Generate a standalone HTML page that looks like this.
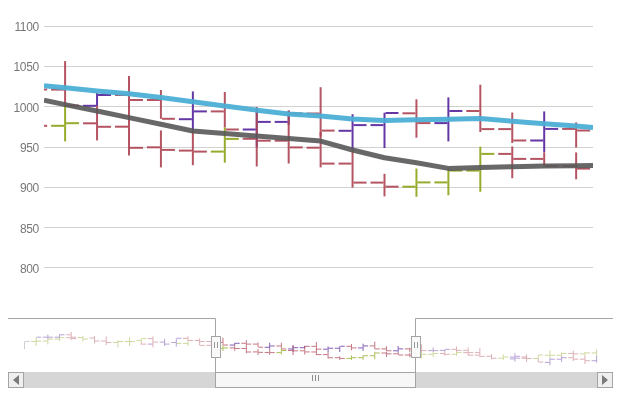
<!DOCTYPE html>
<html><head><meta charset="utf-8"><style>
html,body{margin:0;padding:0;background:#fff;}
body{width:620px;height:411px;overflow:hidden;font-family:"Liberation Sans",sans-serif;}
svg{display:block;}
</style></head><body>
<svg width="620" height="411" viewBox="0 0 620 411">
<defs><clipPath id="pc"><rect x="44" y="0" width="549" height="300"/></clipPath><clipPath id="nc"><rect x="8" y="319" width="605" height="53"/></clipPath></defs>
<line x1="44" y1="26.50" x2="593" y2="26.50" stroke="#d2d2d2" stroke-width="1"/>
<line x1="44" y1="66.50" x2="593" y2="66.50" stroke="#d2d2d2" stroke-width="1"/>
<line x1="44" y1="106.50" x2="593" y2="106.50" stroke="#d2d2d2" stroke-width="1"/>
<line x1="44" y1="147.50" x2="593" y2="147.50" stroke="#d2d2d2" stroke-width="1"/>
<line x1="44" y1="187.50" x2="593" y2="187.50" stroke="#d2d2d2" stroke-width="1"/>
<line x1="44" y1="227.50" x2="593" y2="227.50" stroke="#d2d2d2" stroke-width="1"/>
<line x1="44" y1="267.50" x2="593" y2="267.50" stroke="#d2d2d2" stroke-width="1"/>
<g style="filter:grayscale(1)">
<text x="39" y="31.00" text-anchor="end" font-family="Liberation Sans" font-size="12" letter-spacing="-0.3" fill="#787878">1100</text>
<text x="39" y="71.00" text-anchor="end" font-family="Liberation Sans" font-size="12" letter-spacing="-0.3" fill="#787878">1050</text>
<text x="39" y="112.00" text-anchor="end" font-family="Liberation Sans" font-size="12" letter-spacing="-0.3" fill="#787878">1000</text>
<text x="39" y="152.00" text-anchor="end" font-family="Liberation Sans" font-size="12" letter-spacing="-0.3" fill="#787878">950</text>
<text x="39" y="192.00" text-anchor="end" font-family="Liberation Sans" font-size="12" letter-spacing="-0.3" fill="#787878">900</text>
<text x="39" y="233.00" text-anchor="end" font-family="Liberation Sans" font-size="12" letter-spacing="-0.3" fill="#787878">850</text>
<text x="39" y="273.00" text-anchor="end" font-family="Liberation Sans" font-size="12" letter-spacing="-0.3" fill="#787878">800</text>
</g>
<g clip-path="url(#pc)" stroke-width="2" stroke-linecap="butt">
<line x1="34.16" y1="89.50" x2="47.16" y2="89.50" stroke="#ad4252" stroke-opacity="0.90"/>
<line x1="34.16" y1="125.80" x2="47.16" y2="125.80" stroke="#ad4252" stroke-opacity="0.90"/>
<line x1="65.10" y1="61.10" x2="65.10" y2="106.00" stroke="#ad4252" stroke-opacity="0.90"/>
<line x1="51.10" y1="89.60" x2="64.10" y2="89.60" stroke="#ad4252" stroke-opacity="0.90"/>
<line x1="66.10" y1="105.50" x2="79.10" y2="105.50" stroke="#ad4252" stroke-opacity="0.90"/>
<line x1="65.10" y1="106.00" x2="65.10" y2="141.40" stroke="#8aa316" stroke-opacity="0.90"/>
<line x1="51.10" y1="125.80" x2="64.10" y2="125.80" stroke="#8aa316" stroke-opacity="0.90"/>
<line x1="66.10" y1="123.20" x2="79.10" y2="123.20" stroke="#8aa316" stroke-opacity="0.90"/>
<line x1="97.04" y1="93.00" x2="97.04" y2="106.00" stroke="#53219b" stroke-opacity="0.90"/>
<line x1="83.04" y1="105.80" x2="96.04" y2="105.80" stroke="#53219b" stroke-opacity="0.90"/>
<line x1="98.04" y1="95.00" x2="111.04" y2="95.00" stroke="#53219b" stroke-opacity="0.90"/>
<line x1="97.04" y1="106.00" x2="97.04" y2="140.40" stroke="#ad4252" stroke-opacity="0.90"/>
<line x1="83.04" y1="123.30" x2="96.04" y2="123.30" stroke="#ad4252" stroke-opacity="0.90"/>
<line x1="98.04" y1="126.80" x2="111.04" y2="126.80" stroke="#ad4252" stroke-opacity="0.90"/>
<line x1="128.98" y1="76.00" x2="128.98" y2="155.50" stroke="#ad4252" stroke-opacity="0.90"/>
<line x1="114.98" y1="95.00" x2="127.98" y2="95.00" stroke="#ad4252" stroke-opacity="0.90"/>
<line x1="114.98" y1="126.70" x2="127.98" y2="126.70" stroke="#ad4252" stroke-opacity="0.90"/>
<line x1="129.98" y1="100.00" x2="142.98" y2="100.00" stroke="#ad4252" stroke-opacity="0.90"/>
<line x1="129.98" y1="147.80" x2="142.98" y2="147.80" stroke="#ad4252" stroke-opacity="0.90"/>
<line x1="160.92" y1="90.00" x2="160.92" y2="118.80" stroke="#ad4252" stroke-opacity="0.90"/>
<line x1="146.92" y1="100.00" x2="159.92" y2="100.00" stroke="#ad4252" stroke-opacity="0.90"/>
<line x1="161.92" y1="118.80" x2="174.92" y2="118.80" stroke="#ad4252" stroke-opacity="0.90"/>
<line x1="160.92" y1="130.40" x2="160.92" y2="167.40" stroke="#ad4252" stroke-opacity="0.90"/>
<line x1="146.92" y1="147.30" x2="159.92" y2="147.30" stroke="#ad4252" stroke-opacity="0.90"/>
<line x1="161.92" y1="149.90" x2="174.92" y2="149.90" stroke="#ad4252" stroke-opacity="0.90"/>
<line x1="192.86" y1="91.40" x2="192.86" y2="130.50" stroke="#53219b" stroke-opacity="0.90"/>
<line x1="178.86" y1="119.20" x2="191.86" y2="119.20" stroke="#53219b" stroke-opacity="0.90"/>
<line x1="193.86" y1="111.40" x2="206.86" y2="111.40" stroke="#53219b" stroke-opacity="0.90"/>
<line x1="192.86" y1="130.50" x2="192.86" y2="165.20" stroke="#ad4252" stroke-opacity="0.90"/>
<line x1="178.86" y1="150.60" x2="191.86" y2="150.60" stroke="#ad4252" stroke-opacity="0.90"/>
<line x1="193.86" y1="151.60" x2="206.86" y2="151.60" stroke="#ad4252" stroke-opacity="0.90"/>
<line x1="224.80" y1="92.00" x2="224.80" y2="127.60" stroke="#ad4252" stroke-opacity="0.90"/>
<line x1="210.80" y1="111.40" x2="223.80" y2="111.40" stroke="#ad4252" stroke-opacity="0.90"/>
<line x1="225.80" y1="129.50" x2="238.80" y2="129.50" stroke="#ad4252" stroke-opacity="0.90"/>
<line x1="224.80" y1="127.60" x2="224.80" y2="162.70" stroke="#8aa316" stroke-opacity="0.90"/>
<line x1="210.80" y1="151.60" x2="223.80" y2="151.60" stroke="#8aa316" stroke-opacity="0.90"/>
<line x1="225.80" y1="138.90" x2="238.80" y2="138.90" stroke="#8aa316" stroke-opacity="0.90"/>
<line x1="256.74" y1="107.30" x2="256.74" y2="147.00" stroke="#53219b" stroke-opacity="0.90"/>
<line x1="242.74" y1="129.50" x2="255.74" y2="129.50" stroke="#53219b" stroke-opacity="0.90"/>
<line x1="257.74" y1="121.90" x2="270.74" y2="121.90" stroke="#53219b" stroke-opacity="0.90"/>
<line x1="256.74" y1="107.30" x2="256.74" y2="166.50" stroke="#ad4252" stroke-opacity="0.90"/>
<line x1="242.74" y1="138.80" x2="255.74" y2="138.80" stroke="#ad4252" stroke-opacity="0.90"/>
<line x1="257.74" y1="140.70" x2="270.74" y2="140.70" stroke="#ad4252" stroke-opacity="0.90"/>
<line x1="288.68" y1="110.60" x2="288.68" y2="125.00" stroke="#53219b" stroke-opacity="0.90"/>
<line x1="274.68" y1="121.90" x2="287.68" y2="121.90" stroke="#53219b" stroke-opacity="0.90"/>
<line x1="288.68" y1="110.60" x2="288.68" y2="163.50" stroke="#ad4252" stroke-opacity="0.90"/>
<line x1="274.68" y1="140.70" x2="287.68" y2="140.70" stroke="#ad4252" stroke-opacity="0.90"/>
<line x1="289.68" y1="147.40" x2="302.68" y2="147.40" stroke="#ad4252" stroke-opacity="0.90"/>
<line x1="289.68" y1="113.50" x2="302.68" y2="113.50" stroke="#ad4252" stroke-opacity="0.90"/>
<line x1="320.62" y1="87.20" x2="320.62" y2="136.80" stroke="#ad4252" stroke-opacity="0.90"/>
<line x1="306.62" y1="113.50" x2="319.62" y2="113.50" stroke="#ad4252" stroke-opacity="0.90"/>
<line x1="321.62" y1="130.60" x2="334.62" y2="130.60" stroke="#ad4252" stroke-opacity="0.90"/>
<line x1="320.62" y1="132.00" x2="320.62" y2="167.40" stroke="#ad4252" stroke-opacity="0.90"/>
<line x1="306.62" y1="147.70" x2="319.62" y2="147.70" stroke="#ad4252" stroke-opacity="0.90"/>
<line x1="321.62" y1="163.60" x2="334.62" y2="163.60" stroke="#ad4252" stroke-opacity="0.90"/>
<line x1="352.56" y1="114.20" x2="352.56" y2="149.80" stroke="#53219b" stroke-opacity="0.90"/>
<line x1="338.56" y1="130.80" x2="351.56" y2="130.80" stroke="#53219b" stroke-opacity="0.90"/>
<line x1="353.56" y1="125.10" x2="366.56" y2="125.10" stroke="#53219b" stroke-opacity="0.90"/>
<line x1="352.56" y1="149.80" x2="352.56" y2="187.60" stroke="#ad4252" stroke-opacity="0.90"/>
<line x1="338.56" y1="163.60" x2="351.56" y2="163.60" stroke="#ad4252" stroke-opacity="0.90"/>
<line x1="353.56" y1="182.60" x2="366.56" y2="182.60" stroke="#ad4252" stroke-opacity="0.90"/>
<line x1="384.50" y1="112.70" x2="384.50" y2="148.00" stroke="#53219b" stroke-opacity="0.90"/>
<line x1="370.50" y1="125.10" x2="383.50" y2="125.10" stroke="#53219b" stroke-opacity="0.90"/>
<line x1="385.50" y1="113.00" x2="398.50" y2="113.00" stroke="#53219b" stroke-opacity="0.90"/>
<line x1="384.50" y1="173.80" x2="384.50" y2="196.40" stroke="#ad4252" stroke-opacity="0.90"/>
<line x1="370.50" y1="182.60" x2="383.50" y2="182.60" stroke="#ad4252" stroke-opacity="0.90"/>
<line x1="385.50" y1="186.70" x2="398.50" y2="186.70" stroke="#ad4252" stroke-opacity="0.90"/>
<line x1="416.44" y1="99.30" x2="416.44" y2="137.70" stroke="#ad4252" stroke-opacity="0.90"/>
<line x1="402.44" y1="113.30" x2="415.44" y2="113.30" stroke="#ad4252" stroke-opacity="0.90"/>
<line x1="417.44" y1="123.10" x2="430.44" y2="123.10" stroke="#ad4252" stroke-opacity="0.90"/>
<line x1="416.44" y1="168.60" x2="416.44" y2="196.80" stroke="#8aa316" stroke-opacity="0.90"/>
<line x1="402.44" y1="186.70" x2="415.44" y2="186.70" stroke="#8aa316" stroke-opacity="0.90"/>
<line x1="417.44" y1="182.40" x2="430.44" y2="182.40" stroke="#8aa316" stroke-opacity="0.90"/>
<line x1="448.38" y1="97.40" x2="448.38" y2="141.40" stroke="#53219b" stroke-opacity="0.90"/>
<line x1="434.38" y1="123.10" x2="447.38" y2="123.10" stroke="#53219b" stroke-opacity="0.90"/>
<line x1="449.38" y1="111.00" x2="462.38" y2="111.00" stroke="#53219b" stroke-opacity="0.90"/>
<line x1="448.38" y1="168.00" x2="448.38" y2="195.30" stroke="#8aa316" stroke-opacity="0.90"/>
<line x1="434.38" y1="182.40" x2="447.38" y2="182.40" stroke="#8aa316" stroke-opacity="0.90"/>
<line x1="449.38" y1="170.60" x2="462.38" y2="170.60" stroke="#8aa316" stroke-opacity="0.90"/>
<line x1="480.32" y1="84.70" x2="480.32" y2="132.00" stroke="#ad4252" stroke-opacity="0.90"/>
<line x1="466.32" y1="111.00" x2="479.32" y2="111.00" stroke="#ad4252" stroke-opacity="0.90"/>
<line x1="481.32" y1="129.10" x2="494.32" y2="129.10" stroke="#ad4252" stroke-opacity="0.90"/>
<line x1="480.32" y1="146.70" x2="480.32" y2="191.80" stroke="#8aa316" stroke-opacity="0.90"/>
<line x1="466.32" y1="170.60" x2="479.32" y2="170.60" stroke="#8aa316" stroke-opacity="0.90"/>
<line x1="481.32" y1="153.90" x2="494.32" y2="153.90" stroke="#8aa316" stroke-opacity="0.90"/>
<line x1="512.26" y1="112.50" x2="512.26" y2="143.00" stroke="#ad4252" stroke-opacity="0.90"/>
<line x1="498.26" y1="129.10" x2="511.26" y2="129.10" stroke="#ad4252" stroke-opacity="0.90"/>
<line x1="513.26" y1="140.50" x2="526.26" y2="140.50" stroke="#ad4252" stroke-opacity="0.90"/>
<line x1="512.26" y1="146.40" x2="512.26" y2="178.20" stroke="#ad4252" stroke-opacity="0.90"/>
<line x1="498.26" y1="153.90" x2="511.26" y2="153.90" stroke="#ad4252" stroke-opacity="0.90"/>
<line x1="513.26" y1="158.90" x2="526.26" y2="158.90" stroke="#ad4252" stroke-opacity="0.90"/>
<line x1="544.20" y1="111.40" x2="544.20" y2="152.40" stroke="#53219b" stroke-opacity="0.90"/>
<line x1="530.20" y1="140.50" x2="543.20" y2="140.50" stroke="#53219b" stroke-opacity="0.90"/>
<line x1="545.20" y1="128.90" x2="558.20" y2="128.90" stroke="#53219b" stroke-opacity="0.90"/>
<line x1="544.20" y1="152.40" x2="544.20" y2="166.10" stroke="#ad4252" stroke-opacity="0.90"/>
<line x1="530.20" y1="158.90" x2="543.20" y2="158.90" stroke="#ad4252" stroke-opacity="0.90"/>
<line x1="545.20" y1="166.10" x2="558.20" y2="166.10" stroke="#ad4252" stroke-opacity="0.90"/>
<line x1="576.14" y1="122.40" x2="576.14" y2="147.50" stroke="#ad4252" stroke-opacity="0.90"/>
<line x1="562.14" y1="128.90" x2="575.14" y2="128.90" stroke="#ad4252" stroke-opacity="0.90"/>
<line x1="577.14" y1="130.50" x2="590.14" y2="130.50" stroke="#ad4252" stroke-opacity="0.90"/>
<line x1="576.14" y1="152.40" x2="576.14" y2="179.30" stroke="#ad4252" stroke-opacity="0.90"/>
<line x1="562.14" y1="166.10" x2="575.14" y2="166.10" stroke="#ad4252" stroke-opacity="0.90"/>
<line x1="577.14" y1="168.60" x2="590.14" y2="168.60" stroke="#ad4252" stroke-opacity="0.90"/>
</g>
<g clip-path="url(#pc)" fill="none" stroke-linejoin="round">
<path d="M44.00,85.80 L65.10,87.80 L97.04,91.00 L128.98,93.70 L160.92,97.40 L192.86,101.80 L224.80,105.90 L256.74,110.20 L288.68,113.90 L320.62,116.10 L352.56,119.10 L384.50,120.60 L416.44,119.70 L448.38,119.30 L480.32,118.60 L512.26,121.30 L544.20,123.80 L576.14,126.00 L593.00,127.50" stroke="#4aaed4" stroke-opacity="0.94" stroke-width="5"/>
<path d="M44.00,100.20 L65.10,104.60 L97.04,111.00 L128.98,117.60 L160.92,124.30 L192.86,131.00 L224.80,133.50 L256.74,136.10 L288.68,138.50 L320.62,141.10 L352.56,150.00 L384.50,157.80 L416.44,162.80 L448.38,168.40 L480.32,167.60 L512.26,166.70 L544.20,166.10 L576.14,165.70 L593.00,165.40" stroke="#585858" stroke-opacity="0.9" stroke-width="5"/>
</g>
<g clip-path="url(#nc)" stroke-width="1">
<line x1="211.82" y1="342.37" x2="216.32" y2="342.37" stroke="#ad4252" stroke-opacity="0.72"/>
<line x1="211.82" y1="348.36" x2="216.32" y2="348.36" stroke="#ad4252" stroke-opacity="0.72"/>
<line x1="222.99" y1="337.68" x2="222.99" y2="345.09" stroke="#ad4252" stroke-opacity="0.72"/>
<line x1="217.99" y1="342.38" x2="222.49" y2="342.38" stroke="#ad4252" stroke-opacity="0.72"/>
<line x1="223.49" y1="345.01" x2="227.99" y2="345.01" stroke="#ad4252" stroke-opacity="0.72"/>
<line x1="222.99" y1="345.09" x2="222.99" y2="350.93" stroke="#8aa316" stroke-opacity="0.72"/>
<line x1="217.99" y1="348.36" x2="222.49" y2="348.36" stroke="#8aa316" stroke-opacity="0.72"/>
<line x1="223.49" y1="347.93" x2="227.99" y2="347.93" stroke="#8aa316" stroke-opacity="0.72"/>
<line x1="234.67" y1="342.95" x2="234.67" y2="345.09" stroke="#53219b" stroke-opacity="0.72"/>
<line x1="229.67" y1="345.06" x2="234.17" y2="345.06" stroke="#53219b" stroke-opacity="0.72"/>
<line x1="235.17" y1="343.28" x2="239.67" y2="343.28" stroke="#53219b" stroke-opacity="0.72"/>
<line x1="234.67" y1="345.09" x2="234.67" y2="350.77" stroke="#ad4252" stroke-opacity="0.72"/>
<line x1="229.67" y1="347.94" x2="234.17" y2="347.94" stroke="#ad4252" stroke-opacity="0.72"/>
<line x1="235.17" y1="348.52" x2="239.67" y2="348.52" stroke="#ad4252" stroke-opacity="0.72"/>
<line x1="246.34" y1="340.14" x2="246.34" y2="353.26" stroke="#ad4252" stroke-opacity="0.72"/>
<line x1="241.34" y1="343.28" x2="245.84" y2="343.28" stroke="#ad4252" stroke-opacity="0.72"/>
<line x1="241.34" y1="348.51" x2="245.84" y2="348.51" stroke="#ad4252" stroke-opacity="0.72"/>
<line x1="246.84" y1="344.10" x2="251.34" y2="344.10" stroke="#ad4252" stroke-opacity="0.72"/>
<line x1="246.84" y1="351.99" x2="251.34" y2="351.99" stroke="#ad4252" stroke-opacity="0.72"/>
<line x1="258.02" y1="342.45" x2="258.02" y2="347.20" stroke="#ad4252" stroke-opacity="0.72"/>
<line x1="253.02" y1="344.10" x2="257.52" y2="344.10" stroke="#ad4252" stroke-opacity="0.72"/>
<line x1="258.52" y1="347.20" x2="263.02" y2="347.20" stroke="#ad4252" stroke-opacity="0.72"/>
<line x1="258.02" y1="349.12" x2="258.02" y2="355.22" stroke="#ad4252" stroke-opacity="0.72"/>
<line x1="253.02" y1="351.90" x2="257.52" y2="351.90" stroke="#ad4252" stroke-opacity="0.72"/>
<line x1="258.52" y1="352.33" x2="263.02" y2="352.33" stroke="#ad4252" stroke-opacity="0.72"/>
<line x1="269.70" y1="342.68" x2="269.70" y2="349.13" stroke="#53219b" stroke-opacity="0.72"/>
<line x1="264.70" y1="347.27" x2="269.20" y2="347.27" stroke="#53219b" stroke-opacity="0.72"/>
<line x1="270.20" y1="345.98" x2="274.70" y2="345.98" stroke="#53219b" stroke-opacity="0.72"/>
<line x1="269.70" y1="349.13" x2="269.70" y2="354.86" stroke="#ad4252" stroke-opacity="0.72"/>
<line x1="264.70" y1="352.45" x2="269.20" y2="352.45" stroke="#ad4252" stroke-opacity="0.72"/>
<line x1="270.20" y1="352.61" x2="274.70" y2="352.61" stroke="#ad4252" stroke-opacity="0.72"/>
<line x1="281.37" y1="342.78" x2="281.37" y2="348.65" stroke="#ad4252" stroke-opacity="0.72"/>
<line x1="276.37" y1="345.98" x2="280.87" y2="345.98" stroke="#ad4252" stroke-opacity="0.72"/>
<line x1="281.87" y1="348.97" x2="286.37" y2="348.97" stroke="#ad4252" stroke-opacity="0.72"/>
<line x1="281.37" y1="348.65" x2="281.37" y2="354.45" stroke="#8aa316" stroke-opacity="0.72"/>
<line x1="276.37" y1="352.61" x2="280.87" y2="352.61" stroke="#8aa316" stroke-opacity="0.72"/>
<line x1="281.87" y1="350.52" x2="286.37" y2="350.52" stroke="#8aa316" stroke-opacity="0.72"/>
<line x1="293.05" y1="345.30" x2="293.05" y2="351.86" stroke="#53219b" stroke-opacity="0.72"/>
<line x1="288.05" y1="348.97" x2="292.55" y2="348.97" stroke="#53219b" stroke-opacity="0.72"/>
<line x1="293.55" y1="347.71" x2="298.05" y2="347.71" stroke="#53219b" stroke-opacity="0.72"/>
<line x1="293.05" y1="345.30" x2="293.05" y2="355.07" stroke="#ad4252" stroke-opacity="0.72"/>
<line x1="288.05" y1="350.50" x2="292.55" y2="350.50" stroke="#ad4252" stroke-opacity="0.72"/>
<line x1="293.55" y1="350.82" x2="298.05" y2="350.82" stroke="#ad4252" stroke-opacity="0.72"/>
<line x1="304.72" y1="345.85" x2="304.72" y2="348.23" stroke="#53219b" stroke-opacity="0.72"/>
<line x1="299.72" y1="347.71" x2="304.22" y2="347.71" stroke="#53219b" stroke-opacity="0.72"/>
<line x1="304.72" y1="345.85" x2="304.72" y2="354.58" stroke="#ad4252" stroke-opacity="0.72"/>
<line x1="299.72" y1="350.82" x2="304.22" y2="350.82" stroke="#ad4252" stroke-opacity="0.72"/>
<line x1="305.22" y1="351.92" x2="309.72" y2="351.92" stroke="#ad4252" stroke-opacity="0.72"/>
<line x1="305.22" y1="346.33" x2="309.72" y2="346.33" stroke="#ad4252" stroke-opacity="0.72"/>
<line x1="316.40" y1="341.99" x2="316.40" y2="350.17" stroke="#ad4252" stroke-opacity="0.72"/>
<line x1="311.40" y1="346.33" x2="315.90" y2="346.33" stroke="#ad4252" stroke-opacity="0.72"/>
<line x1="316.90" y1="349.15" x2="321.40" y2="349.15" stroke="#ad4252" stroke-opacity="0.72"/>
<line x1="316.40" y1="349.38" x2="316.40" y2="355.22" stroke="#ad4252" stroke-opacity="0.72"/>
<line x1="311.40" y1="351.97" x2="315.90" y2="351.97" stroke="#ad4252" stroke-opacity="0.72"/>
<line x1="316.90" y1="354.59" x2="321.40" y2="354.59" stroke="#ad4252" stroke-opacity="0.72"/>
<line x1="328.08" y1="346.44" x2="328.08" y2="352.32" stroke="#53219b" stroke-opacity="0.72"/>
<line x1="323.08" y1="349.18" x2="327.58" y2="349.18" stroke="#53219b" stroke-opacity="0.72"/>
<line x1="328.58" y1="348.24" x2="333.08" y2="348.24" stroke="#53219b" stroke-opacity="0.72"/>
<line x1="328.08" y1="352.32" x2="328.08" y2="358.55" stroke="#ad4252" stroke-opacity="0.72"/>
<line x1="323.08" y1="354.59" x2="327.58" y2="354.59" stroke="#ad4252" stroke-opacity="0.72"/>
<line x1="328.58" y1="357.73" x2="333.08" y2="357.73" stroke="#ad4252" stroke-opacity="0.72"/>
<line x1="339.75" y1="346.20" x2="339.75" y2="352.02" stroke="#53219b" stroke-opacity="0.72"/>
<line x1="334.75" y1="348.24" x2="339.25" y2="348.24" stroke="#53219b" stroke-opacity="0.72"/>
<line x1="340.25" y1="346.25" x2="344.75" y2="346.25" stroke="#53219b" stroke-opacity="0.72"/>
<line x1="339.75" y1="356.28" x2="339.75" y2="360.01" stroke="#ad4252" stroke-opacity="0.72"/>
<line x1="334.75" y1="357.73" x2="339.25" y2="357.73" stroke="#ad4252" stroke-opacity="0.72"/>
<line x1="340.25" y1="358.41" x2="344.75" y2="358.41" stroke="#ad4252" stroke-opacity="0.72"/>
<line x1="351.43" y1="343.98" x2="351.43" y2="350.32" stroke="#ad4252" stroke-opacity="0.72"/>
<line x1="346.43" y1="346.29" x2="350.93" y2="346.29" stroke="#ad4252" stroke-opacity="0.72"/>
<line x1="351.93" y1="347.91" x2="356.43" y2="347.91" stroke="#ad4252" stroke-opacity="0.72"/>
<line x1="351.43" y1="355.42" x2="351.43" y2="360.07" stroke="#8aa316" stroke-opacity="0.72"/>
<line x1="346.43" y1="358.41" x2="350.93" y2="358.41" stroke="#8aa316" stroke-opacity="0.72"/>
<line x1="351.93" y1="357.70" x2="356.43" y2="357.70" stroke="#8aa316" stroke-opacity="0.72"/>
<line x1="363.10" y1="343.67" x2="363.10" y2="350.93" stroke="#53219b" stroke-opacity="0.72"/>
<line x1="358.10" y1="347.91" x2="362.60" y2="347.91" stroke="#53219b" stroke-opacity="0.72"/>
<line x1="363.60" y1="345.92" x2="368.10" y2="345.92" stroke="#53219b" stroke-opacity="0.72"/>
<line x1="363.10" y1="355.32" x2="363.10" y2="359.82" stroke="#8aa316" stroke-opacity="0.72"/>
<line x1="358.10" y1="357.70" x2="362.60" y2="357.70" stroke="#8aa316" stroke-opacity="0.72"/>
<line x1="363.60" y1="355.75" x2="368.10" y2="355.75" stroke="#8aa316" stroke-opacity="0.72"/>
<line x1="374.78" y1="341.58" x2="374.78" y2="349.38" stroke="#ad4252" stroke-opacity="0.72"/>
<line x1="369.78" y1="345.92" x2="374.28" y2="345.92" stroke="#ad4252" stroke-opacity="0.72"/>
<line x1="375.28" y1="348.90" x2="379.78" y2="348.90" stroke="#ad4252" stroke-opacity="0.72"/>
<line x1="374.78" y1="351.81" x2="374.78" y2="359.25" stroke="#8aa316" stroke-opacity="0.72"/>
<line x1="369.78" y1="355.75" x2="374.28" y2="355.75" stroke="#8aa316" stroke-opacity="0.72"/>
<line x1="375.28" y1="352.99" x2="379.78" y2="352.99" stroke="#8aa316" stroke-opacity="0.72"/>
<line x1="386.46" y1="346.16" x2="386.46" y2="351.20" stroke="#ad4252" stroke-opacity="0.72"/>
<line x1="381.46" y1="348.90" x2="385.96" y2="348.90" stroke="#ad4252" stroke-opacity="0.72"/>
<line x1="386.96" y1="350.78" x2="391.46" y2="350.78" stroke="#ad4252" stroke-opacity="0.72"/>
<line x1="386.46" y1="351.76" x2="386.46" y2="357.00" stroke="#ad4252" stroke-opacity="0.72"/>
<line x1="381.46" y1="352.99" x2="385.96" y2="352.99" stroke="#ad4252" stroke-opacity="0.72"/>
<line x1="386.96" y1="353.82" x2="391.46" y2="353.82" stroke="#ad4252" stroke-opacity="0.72"/>
<line x1="398.13" y1="345.98" x2="398.13" y2="352.75" stroke="#53219b" stroke-opacity="0.72"/>
<line x1="393.13" y1="350.78" x2="397.63" y2="350.78" stroke="#53219b" stroke-opacity="0.72"/>
<line x1="398.63" y1="348.87" x2="403.13" y2="348.87" stroke="#53219b" stroke-opacity="0.72"/>
<line x1="398.13" y1="352.75" x2="398.13" y2="355.01" stroke="#ad4252" stroke-opacity="0.72"/>
<line x1="393.13" y1="353.82" x2="397.63" y2="353.82" stroke="#ad4252" stroke-opacity="0.72"/>
<line x1="398.63" y1="355.01" x2="403.13" y2="355.01" stroke="#ad4252" stroke-opacity="0.72"/>
<line x1="409.81" y1="347.80" x2="409.81" y2="351.94" stroke="#ad4252" stroke-opacity="0.72"/>
<line x1="404.81" y1="348.87" x2="409.31" y2="348.87" stroke="#ad4252" stroke-opacity="0.72"/>
<line x1="410.31" y1="349.13" x2="414.81" y2="349.13" stroke="#ad4252" stroke-opacity="0.72"/>
<line x1="409.81" y1="352.75" x2="409.81" y2="357.18" stroke="#ad4252" stroke-opacity="0.72"/>
<line x1="404.81" y1="355.01" x2="409.31" y2="355.01" stroke="#ad4252" stroke-opacity="0.72"/>
<line x1="410.31" y1="355.42" x2="414.81" y2="355.42" stroke="#ad4252" stroke-opacity="0.72"/>
<line x1="24.50" y1="341.50" x2="24.50" y2="349.30" stroke="#8a8a8a" stroke-opacity="0.42"/>
<line x1="25.00" y1="341.50" x2="29.50" y2="341.50" stroke="#8a8a8a" stroke-opacity="0.42"/>
<line x1="36.18" y1="337.20" x2="36.18" y2="345.90" stroke="#8aa316" stroke-opacity="0.42"/>
<line x1="31.18" y1="341.50" x2="35.68" y2="341.50" stroke="#8aa316" stroke-opacity="0.42"/>
<line x1="36.68" y1="341.10" x2="41.18" y2="341.10" stroke="#8aa316" stroke-opacity="0.42"/>
<line x1="36.68" y1="337.20" x2="41.18" y2="337.20" stroke="#53219b" stroke-opacity="0.42"/>
<line x1="47.85" y1="334.60" x2="47.85" y2="339.00" stroke="#53219b" stroke-opacity="0.42"/>
<line x1="42.85" y1="337.20" x2="47.35" y2="337.20" stroke="#53219b" stroke-opacity="0.42"/>
<line x1="48.35" y1="337.20" x2="52.85" y2="337.20" stroke="#53219b" stroke-opacity="0.42"/>
<line x1="47.85" y1="339.00" x2="47.85" y2="344.50" stroke="#8aa316" stroke-opacity="0.42"/>
<line x1="42.85" y1="341.00" x2="47.35" y2="341.00" stroke="#8aa316" stroke-opacity="0.42"/>
<line x1="48.35" y1="339.10" x2="52.85" y2="339.10" stroke="#8aa316" stroke-opacity="0.42"/>
<line x1="59.53" y1="334.30" x2="59.53" y2="337.70" stroke="#53219b" stroke-opacity="0.42"/>
<line x1="54.53" y1="337.20" x2="59.03" y2="337.20" stroke="#53219b" stroke-opacity="0.42"/>
<line x1="60.03" y1="334.80" x2="64.53" y2="334.80" stroke="#53219b" stroke-opacity="0.42"/>
<line x1="59.53" y1="337.70" x2="59.53" y2="341.10" stroke="#8aa316" stroke-opacity="0.42"/>
<line x1="54.53" y1="339.10" x2="59.03" y2="339.10" stroke="#8aa316" stroke-opacity="0.42"/>
<line x1="60.03" y1="337.70" x2="64.53" y2="337.70" stroke="#8aa316" stroke-opacity="0.42"/>
<line x1="71.20" y1="331.90" x2="71.20" y2="340.10" stroke="#ad4252" stroke-opacity="0.42"/>
<line x1="66.20" y1="334.80" x2="70.70" y2="334.80" stroke="#ad4252" stroke-opacity="0.42"/>
<line x1="66.20" y1="337.70" x2="70.70" y2="337.70" stroke="#ad4252" stroke-opacity="0.42"/>
<line x1="71.70" y1="337.20" x2="76.20" y2="337.20" stroke="#ad4252" stroke-opacity="0.42"/>
<line x1="71.70" y1="338.60" x2="76.20" y2="338.60" stroke="#ad4252" stroke-opacity="0.42"/>
<line x1="82.88" y1="335.70" x2="82.88" y2="341.50" stroke="#8aa316" stroke-opacity="0.42"/>
<line x1="77.88" y1="337.50" x2="82.38" y2="337.50" stroke="#8aa316" stroke-opacity="0.42"/>
<line x1="83.38" y1="339.00" x2="87.88" y2="339.00" stroke="#8aa316" stroke-opacity="0.42"/>
<line x1="94.56" y1="336.00" x2="94.56" y2="343.40" stroke="#ad4252" stroke-opacity="0.42"/>
<line x1="89.56" y1="338.00" x2="94.06" y2="338.00" stroke="#ad4252" stroke-opacity="0.42"/>
<line x1="95.06" y1="341.00" x2="99.56" y2="341.00" stroke="#ad4252" stroke-opacity="0.42"/>
<line x1="106.23" y1="336.30" x2="106.23" y2="345.10" stroke="#ad4252" stroke-opacity="0.42"/>
<line x1="101.23" y1="341.00" x2="105.73" y2="341.00" stroke="#ad4252" stroke-opacity="0.42"/>
<line x1="106.73" y1="342.50" x2="111.23" y2="342.50" stroke="#ad4252" stroke-opacity="0.42"/>
<line x1="117.91" y1="340.20" x2="117.91" y2="347.30" stroke="#8aa316" stroke-opacity="0.42"/>
<line x1="112.91" y1="342.50" x2="117.41" y2="342.50" stroke="#8aa316" stroke-opacity="0.42"/>
<line x1="118.41" y1="341.50" x2="122.91" y2="341.50" stroke="#8aa316" stroke-opacity="0.42"/>
<line x1="129.58" y1="337.00" x2="129.58" y2="346.00" stroke="#8aa316" stroke-opacity="0.42"/>
<line x1="124.58" y1="341.50" x2="129.08" y2="341.50" stroke="#8aa316" stroke-opacity="0.42"/>
<line x1="130.08" y1="341.50" x2="134.58" y2="341.50" stroke="#8aa316" stroke-opacity="0.42"/>
<line x1="141.26" y1="338.30" x2="141.26" y2="342.00" stroke="#8aa316" stroke-opacity="0.42"/>
<line x1="136.26" y1="340.60" x2="140.76" y2="340.60" stroke="#8aa316" stroke-opacity="0.42"/>
<line x1="141.76" y1="338.60" x2="146.26" y2="338.60" stroke="#8aa316" stroke-opacity="0.42"/>
<line x1="141.26" y1="342.00" x2="141.26" y2="344.70" stroke="#ad4252" stroke-opacity="0.42"/>
<line x1="141.76" y1="344.10" x2="146.26" y2="344.10" stroke="#ad4252" stroke-opacity="0.42"/>
<line x1="152.94" y1="336.30" x2="152.94" y2="347.30" stroke="#ad4252" stroke-opacity="0.42"/>
<line x1="147.94" y1="338.60" x2="152.44" y2="338.60" stroke="#ad4252" stroke-opacity="0.42"/>
<line x1="153.44" y1="342.10" x2="157.94" y2="342.10" stroke="#ad4252" stroke-opacity="0.42"/>
<line x1="147.94" y1="344.10" x2="152.44" y2="344.10" stroke="#53219b" stroke-opacity="0.42"/>
<line x1="164.61" y1="338.90" x2="164.61" y2="346.00" stroke="#53219b" stroke-opacity="0.42"/>
<line x1="159.61" y1="342.10" x2="164.11" y2="342.10" stroke="#53219b" stroke-opacity="0.42"/>
<line x1="165.11" y1="344.10" x2="169.61" y2="344.10" stroke="#53219b" stroke-opacity="0.42"/>
<line x1="176.29" y1="338.30" x2="176.29" y2="346.60" stroke="#53219b" stroke-opacity="0.42"/>
<line x1="171.29" y1="342.50" x2="175.79" y2="342.50" stroke="#53219b" stroke-opacity="0.42"/>
<line x1="176.79" y1="338.30" x2="181.29" y2="338.30" stroke="#53219b" stroke-opacity="0.42"/>
<line x1="176.79" y1="343.40" x2="181.29" y2="343.40" stroke="#8aa316" stroke-opacity="0.42"/>
<line x1="187.96" y1="336.30" x2="187.96" y2="341.00" stroke="#ad4252" stroke-opacity="0.42"/>
<line x1="182.96" y1="338.30" x2="187.46" y2="338.30" stroke="#ad4252" stroke-opacity="0.42"/>
<line x1="188.46" y1="340.50" x2="192.96" y2="340.50" stroke="#ad4252" stroke-opacity="0.42"/>
<line x1="187.96" y1="341.00" x2="187.96" y2="346.00" stroke="#8aa316" stroke-opacity="0.42"/>
<line x1="182.96" y1="343.40" x2="187.46" y2="343.40" stroke="#8aa316" stroke-opacity="0.42"/>
<line x1="199.64" y1="338.30" x2="199.64" y2="345.40" stroke="#ad4252" stroke-opacity="0.42"/>
<line x1="194.64" y1="340.50" x2="199.14" y2="340.50" stroke="#ad4252" stroke-opacity="0.42"/>
<line x1="200.14" y1="341.50" x2="204.64" y2="341.50" stroke="#ad4252" stroke-opacity="0.42"/>
<line x1="200.14" y1="345.40" x2="204.64" y2="345.40" stroke="#ad4252" stroke-opacity="0.42"/>
<line x1="211.32" y1="340.80" x2="211.32" y2="345.40" stroke="#ad4252" stroke-opacity="0.42"/>
<line x1="206.32" y1="341.50" x2="210.82" y2="341.50" stroke="#ad4252" stroke-opacity="0.42"/>
<line x1="206.32" y1="345.40" x2="210.82" y2="345.40" stroke="#ad4252" stroke-opacity="0.42"/>
<line x1="421.48" y1="344.20" x2="421.48" y2="352.00" stroke="#ad4252" stroke-opacity="0.42"/>
<line x1="421.98" y1="350.60" x2="426.48" y2="350.60" stroke="#ad4252" stroke-opacity="0.42"/>
<line x1="421.48" y1="352.00" x2="421.48" y2="358.40" stroke="#8aa316" stroke-opacity="0.42"/>
<line x1="421.98" y1="354.30" x2="426.48" y2="354.30" stroke="#8aa316" stroke-opacity="0.42"/>
<line x1="433.16" y1="347.40" x2="433.16" y2="352.00" stroke="#53219b" stroke-opacity="0.42"/>
<line x1="428.16" y1="350.60" x2="432.66" y2="350.60" stroke="#53219b" stroke-opacity="0.42"/>
<line x1="433.66" y1="350.60" x2="438.16" y2="350.60" stroke="#53219b" stroke-opacity="0.42"/>
<line x1="433.16" y1="352.00" x2="433.16" y2="357.10" stroke="#8aa316" stroke-opacity="0.42"/>
<line x1="428.16" y1="354.30" x2="432.66" y2="354.30" stroke="#8aa316" stroke-opacity="0.42"/>
<line x1="433.66" y1="353.50" x2="438.16" y2="353.50" stroke="#8aa316" stroke-opacity="0.42"/>
<line x1="444.84" y1="349.40" x2="444.84" y2="352.00" stroke="#53219b" stroke-opacity="0.42"/>
<line x1="439.84" y1="350.40" x2="444.34" y2="350.40" stroke="#53219b" stroke-opacity="0.42"/>
<line x1="445.34" y1="349.40" x2="449.84" y2="349.40" stroke="#53219b" stroke-opacity="0.42"/>
<line x1="444.84" y1="352.00" x2="444.84" y2="355.80" stroke="#ad4252" stroke-opacity="0.42"/>
<line x1="439.84" y1="353.50" x2="444.34" y2="353.50" stroke="#ad4252" stroke-opacity="0.42"/>
<line x1="445.34" y1="354.30" x2="449.84" y2="354.30" stroke="#ad4252" stroke-opacity="0.42"/>
<line x1="456.51" y1="346.50" x2="456.51" y2="352.00" stroke="#ad4252" stroke-opacity="0.42"/>
<line x1="451.51" y1="349.40" x2="456.01" y2="349.40" stroke="#ad4252" stroke-opacity="0.42"/>
<line x1="457.01" y1="350.40" x2="461.51" y2="350.40" stroke="#ad4252" stroke-opacity="0.42"/>
<line x1="456.51" y1="352.00" x2="456.51" y2="355.80" stroke="#8aa316" stroke-opacity="0.42"/>
<line x1="451.51" y1="354.30" x2="456.01" y2="354.30" stroke="#8aa316" stroke-opacity="0.42"/>
<line x1="457.01" y1="352.60" x2="461.51" y2="352.60" stroke="#8aa316" stroke-opacity="0.42"/>
<line x1="468.19" y1="347.40" x2="468.19" y2="355.80" stroke="#ad4252" stroke-opacity="0.42"/>
<line x1="463.19" y1="350.40" x2="467.69" y2="350.40" stroke="#ad4252" stroke-opacity="0.42"/>
<line x1="463.19" y1="352.60" x2="467.69" y2="352.60" stroke="#ad4252" stroke-opacity="0.42"/>
<line x1="468.69" y1="352.60" x2="473.19" y2="352.60" stroke="#ad4252" stroke-opacity="0.42"/>
<line x1="468.69" y1="355.20" x2="473.19" y2="355.20" stroke="#ad4252" stroke-opacity="0.42"/>
<line x1="479.86" y1="348.00" x2="479.86" y2="357.10" stroke="#ad4252" stroke-opacity="0.42"/>
<line x1="474.86" y1="352.60" x2="479.36" y2="352.60" stroke="#ad4252" stroke-opacity="0.42"/>
<line x1="474.86" y1="355.20" x2="479.36" y2="355.20" stroke="#ad4252" stroke-opacity="0.42"/>
<line x1="480.36" y1="356.40" x2="484.86" y2="356.40" stroke="#ad4252" stroke-opacity="0.42"/>
<line x1="491.54" y1="354.10" x2="491.54" y2="359.50" stroke="#ad4252" stroke-opacity="0.42"/>
<line x1="486.54" y1="356.30" x2="491.04" y2="356.30" stroke="#ad4252" stroke-opacity="0.42"/>
<line x1="492.04" y1="358.20" x2="496.54" y2="358.20" stroke="#ad4252" stroke-opacity="0.42"/>
<line x1="503.22" y1="354.40" x2="503.22" y2="360.20" stroke="#8aa316" stroke-opacity="0.42"/>
<line x1="498.22" y1="358.20" x2="502.72" y2="358.20" stroke="#8aa316" stroke-opacity="0.42"/>
<line x1="503.72" y1="357.00" x2="508.22" y2="357.00" stroke="#8aa316" stroke-opacity="0.42"/>
<line x1="514.89" y1="353.10" x2="514.89" y2="361.50" stroke="#53219b" stroke-opacity="0.42"/>
<line x1="509.89" y1="357.10" x2="514.39" y2="357.10" stroke="#53219b" stroke-opacity="0.42"/>
<line x1="509.89" y1="358.90" x2="514.39" y2="358.90" stroke="#53219b" stroke-opacity="0.42"/>
<line x1="515.39" y1="356.30" x2="519.89" y2="356.30" stroke="#53219b" stroke-opacity="0.42"/>
<line x1="515.39" y1="358.20" x2="519.89" y2="358.20" stroke="#53219b" stroke-opacity="0.42"/>
<line x1="526.57" y1="354.40" x2="526.57" y2="362.10" stroke="#ad4252" stroke-opacity="0.42"/>
<line x1="521.57" y1="357.00" x2="526.07" y2="357.00" stroke="#ad4252" stroke-opacity="0.42"/>
<line x1="521.57" y1="358.20" x2="526.07" y2="358.20" stroke="#ad4252" stroke-opacity="0.42"/>
<line x1="527.07" y1="358.50" x2="531.57" y2="358.50" stroke="#ad4252" stroke-opacity="0.42"/>
<line x1="538.24" y1="355.00" x2="538.24" y2="358.50" stroke="#8aa316" stroke-opacity="0.42"/>
<line x1="533.24" y1="358.50" x2="537.74" y2="358.50" stroke="#8aa316" stroke-opacity="0.42"/>
<line x1="538.74" y1="355.00" x2="543.24" y2="355.00" stroke="#8aa316" stroke-opacity="0.42"/>
<line x1="538.24" y1="358.50" x2="538.24" y2="362.10" stroke="#ad4252" stroke-opacity="0.42"/>
<line x1="538.74" y1="362.10" x2="543.24" y2="362.10" stroke="#ad4252" stroke-opacity="0.42"/>
<line x1="549.92" y1="350.30" x2="549.92" y2="358.00" stroke="#8aa316" stroke-opacity="0.42"/>
<line x1="544.92" y1="355.30" x2="549.42" y2="355.30" stroke="#8aa316" stroke-opacity="0.42"/>
<line x1="550.42" y1="355.30" x2="554.92" y2="355.30" stroke="#8aa316" stroke-opacity="0.42"/>
<line x1="549.92" y1="358.00" x2="549.92" y2="365.30" stroke="#53219b" stroke-opacity="0.42"/>
<line x1="544.92" y1="362.40" x2="549.42" y2="362.40" stroke="#53219b" stroke-opacity="0.42"/>
<line x1="550.42" y1="359.20" x2="554.92" y2="359.20" stroke="#53219b" stroke-opacity="0.42"/>
<line x1="561.60" y1="352.40" x2="561.60" y2="356.00" stroke="#8aa316" stroke-opacity="0.42"/>
<line x1="556.60" y1="355.30" x2="561.10" y2="355.30" stroke="#8aa316" stroke-opacity="0.42"/>
<line x1="562.10" y1="353.40" x2="566.60" y2="353.40" stroke="#8aa316" stroke-opacity="0.42"/>
<line x1="561.60" y1="356.00" x2="561.60" y2="362.10" stroke="#53219b" stroke-opacity="0.42"/>
<line x1="556.60" y1="359.20" x2="561.10" y2="359.20" stroke="#53219b" stroke-opacity="0.42"/>
<line x1="562.10" y1="357.70" x2="566.60" y2="357.70" stroke="#53219b" stroke-opacity="0.42"/>
<line x1="573.27" y1="350.50" x2="573.27" y2="361.10" stroke="#ad4252" stroke-opacity="0.42"/>
<line x1="568.27" y1="353.40" x2="572.77" y2="353.40" stroke="#ad4252" stroke-opacity="0.42"/>
<line x1="568.27" y1="357.70" x2="572.77" y2="357.70" stroke="#ad4252" stroke-opacity="0.42"/>
<line x1="573.77" y1="353.90" x2="578.27" y2="353.90" stroke="#ad4252" stroke-opacity="0.42"/>
<line x1="573.77" y1="359.20" x2="578.27" y2="359.20" stroke="#ad4252" stroke-opacity="0.42"/>
<line x1="584.95" y1="352.00" x2="584.95" y2="356.00" stroke="#8aa316" stroke-opacity="0.42"/>
<line x1="579.95" y1="353.90" x2="584.45" y2="353.90" stroke="#8aa316" stroke-opacity="0.42"/>
<line x1="585.45" y1="352.90" x2="589.95" y2="352.90" stroke="#8aa316" stroke-opacity="0.42"/>
<line x1="584.95" y1="356.00" x2="584.95" y2="364.00" stroke="#ad4252" stroke-opacity="0.42"/>
<line x1="579.95" y1="359.20" x2="584.45" y2="359.20" stroke="#ad4252" stroke-opacity="0.42"/>
<line x1="585.45" y1="360.70" x2="589.95" y2="360.70" stroke="#ad4252" stroke-opacity="0.42"/>
<line x1="596.62" y1="349.50" x2="596.62" y2="356.00" stroke="#8aa316" stroke-opacity="0.42"/>
<line x1="591.62" y1="352.90" x2="596.12" y2="352.90" stroke="#8aa316" stroke-opacity="0.42"/>
<line x1="596.62" y1="356.00" x2="596.62" y2="362.60" stroke="#53219b" stroke-opacity="0.42"/>
<line x1="591.62" y1="360.70" x2="596.12" y2="360.70" stroke="#53219b" stroke-opacity="0.42"/>
</g>
<g stroke="#a4a4a4" stroke-width="1" fill="none">
<path d="M8,318.5 H215.5 V388 M613,318.5 H415.5 V388"/>
</g>
<rect x="24" y="372" width="573" height="16" fill="#d6d6d6"/>
<rect x="215.5" y="372.5" width="200" height="15" fill="#f7f7f7" stroke="#a4a4a4"/>
<g stroke="#8c8c8c" stroke-width="1"><line x1="312.5" y1="375" x2="312.5" y2="381"/><line x1="315.5" y1="375" x2="315.5" y2="381"/><line x1="318.5" y1="375" x2="318.5" y2="381"/></g>
<rect x="8.5" y="372.5" width="15" height="15" fill="#efefef" stroke="#a4a4a4"/>
<rect x="597.5" y="372.5" width="15" height="15" fill="#efefef" stroke="#a4a4a4"/>
<path d="M13,380 L19,375 L19,385 Z" fill="#7a7a7a"/>
<path d="M608,380 L602,375 L602,385 Z" fill="#7a7a7a"/>
<rect x="211.5" y="336.5" width="9" height="21" fill="#f9f9f9" stroke="#a4a4a4"/>
<g stroke="#999999"><line x1="214.5" y1="342" x2="214.5" y2="348"/><line x1="217.5" y1="342" x2="217.5" y2="348"/></g>
<rect x="411.5" y="336.5" width="9" height="21" fill="#f9f9f9" stroke="#a4a4a4"/>
<g stroke="#999999"><line x1="414.5" y1="342" x2="414.5" y2="348"/><line x1="417.5" y1="342" x2="417.5" y2="348"/></g>
</svg>
</body></html>
